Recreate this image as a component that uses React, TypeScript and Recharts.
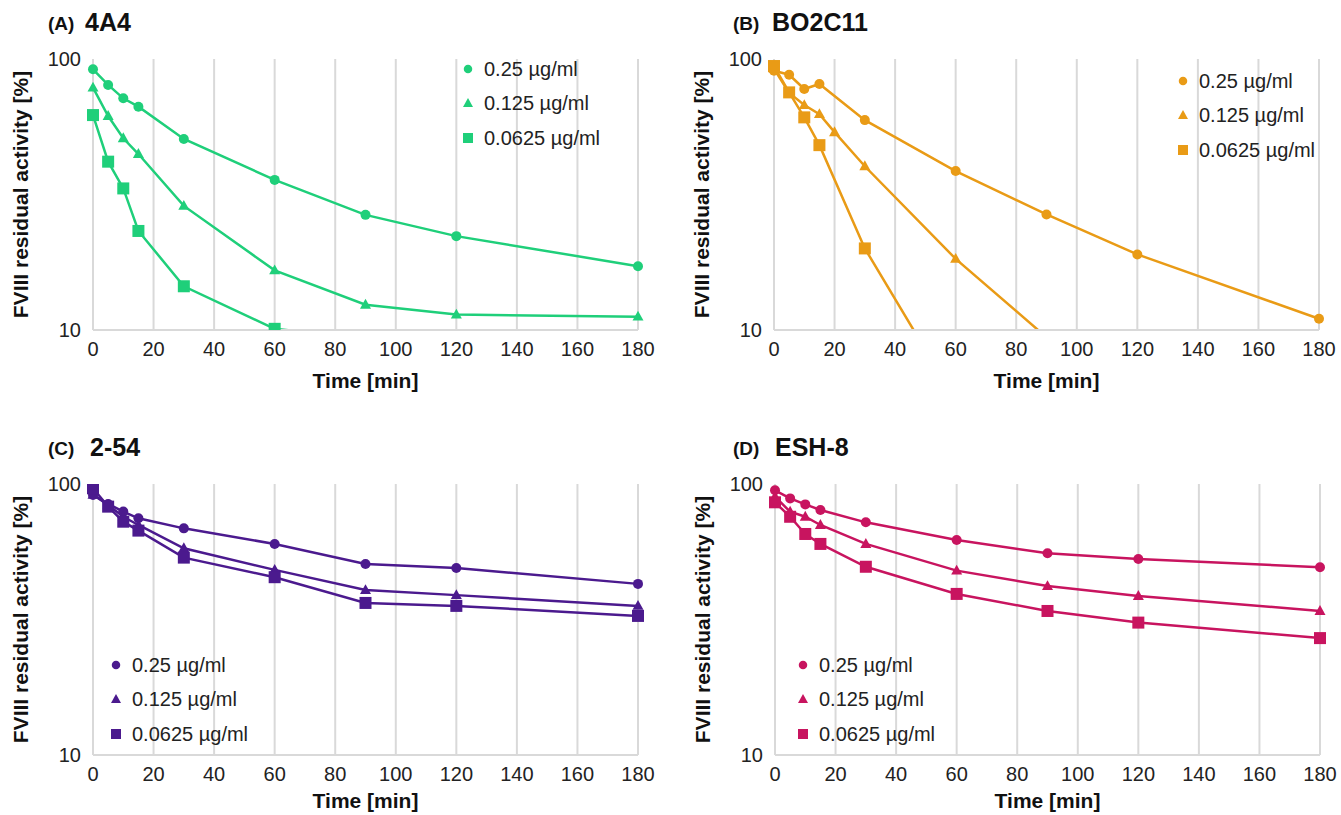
import React from "react"
import { LineChart, Line, XAxis, YAxis, CartesianGrid, Legend } from "recharts"

const FONT = "'Liberation Sans', Arial, Helvetica, sans-serif"

// sampling times (min)
const TIMES = [0, 5, 10, 15, 30, 60, 90, 120, 180]
const TIMES_A_LOW = [0, 5, 10, 15, 30, 60, 90]
const TIMES_B_MID = [0, 5, 10, 15, 20, 30, 60, 90]
const TIMES_B_LOW = [0, 5, 10, 15, 30, 60]

const X_TICKS = [0, 20, 40, 60, 80, 100, 120, 140, 160, 180]
const Y_TICKS = [10, 100]

const DOSES = ["0.25 µg/ml", "0.125 µg/ml", "0.0625 µg/ml"]

// (A) 4A4
const A_HIGH = [91.6, 80.2, 71.6, 66.7, 50.7, 35.8, 26.6, 22.2, 17.2]
const A_MID = [78.4, 61.6, 51.0, 44.6, 28.7, 16.6, 12.4, 11.4, 11.2]
const A_LOW = [62.1, 41.8, 33.3, 23.2, 14.5, 10.1, 9.3]

// (B) BO2C11
const B_HIGH = [90.5, 87.5, 77.5, 80.9, 59.5, 38.6, 26.7, 19.0, 11.0]
const B_MID = [92.0, 75.0, 67.6, 62.6, 53.7, 40.2, 18.3, 9.4]
const B_LOW = [94.2, 75.3, 60.9, 48.1, 20.0, 5.5]

// (C) 2-54
const C_HIGH = [91.1, 84.4, 79.1, 74.7, 68.6, 60.1, 50.7, 49.0, 42.8]
const C_MID = [91.3, 83.7, 75.7, 70.6, 57.9, 48.2, 40.6, 38.9, 35.5]
const C_LOW = [96.4, 82.5, 72.6, 67.3, 53.5, 45.3, 36.4, 35.5, 32.6]

// (D) ESH-8
const D_HIGH = [94.8, 88.5, 84.1, 80.2, 72.2, 62.1, 55.5, 52.9, 49.3]
const D_MID = [89.8, 79.0, 75.7, 70.6, 60.1, 47.9, 42.0, 38.6, 34.0]
const D_LOW = [85.6, 75.7, 65.4, 60.1, 49.5, 39.3, 34.0, 30.8, 27.0]

const SHAPES = ["circle", "triangle", "square"]

const toPoints = (times: number[], values: number[]) =>
  times.map((t, i) => ({ t, v: values[i] }))

function Marker({ shape, cx, cy, color, size }: any) {
  if (cx == null || cy == null) return null
  if (shape === "circle") return <circle cx={cx} cy={cy} r={size / 2} fill={color} />
  if (shape === "triangle") {
    const h = size * 0.9
    return (
      <polygon
        points={`${cx},${cy - h * 0.6} ${cx - size / 2},${cy + h * 0.4} ${cx + size / 2},${cy + h * 0.4}`}
        fill={color}
      />
    )
  }
  return <rect x={cx - size / 2} y={cy - size / 2} width={size} height={size} fill={color} />
}

const DOT_SIZE: Record<string, number> = { circle: 10, triangle: 11, square: 12 }
const LEG_SIZE: Record<string, number> = { circle: 8.5, triangle: 10, square: 10 }

function LegendBox({ color }: { color: string }) {
  return (
    <svg width={190} height={105}>
      {DOSES.map((d, i) => (
        <g key={d}>
          <Marker shape={SHAPES[i]} cx={8} cy={17 + i * 34.5} color={color} size={LEG_SIZE[SHAPES[i]]} />
          <text x={24} y={17 + i * 34.5} dy="0.33em" fontSize={20} fontFamily={FONT} fill="#222">
            {d}
          </text>
        </g>
      ))}
    </svg>
  )
}

function YTitle({ viewBox }: any) {
  const cx = viewBox.x + 12
  const cy = viewBox.y + viewBox.height / 2
  return (
    <text
      x={cx}
      y={cy}
      transform={`rotate(-90 ${cx} ${cy})`}
      textAnchor="middle"
      dominantBaseline="central"
      fontSize={21}
      fontWeight="bold"
      fontFamily={FONT}
      fill="#111"
    >
      FVIII residual activity [%]
    </text>
  )
}

function XTitle({ viewBox, drop }: any) {
  return (
    <text
      x={viewBox.x + viewBox.width / 2}
      y={viewBox.y + drop}
      textAnchor="middle"
      fontSize={21}
      fontWeight="bold"
      fontFamily={FONT}
      fill="#111"
    >
      Time [min]
    </text>
  )
}

function Panel({ left, top, color, series, legendPos, drop }: any) {
  return (
    <div style={{ position: "absolute", left, top }}>
      <LineChart width={650} height={361} margin={{ top: 20, right: 20, bottom: 0, left: 0 }}>
        <CartesianGrid horizontal={false} stroke="#d9d9d9" strokeWidth={2} />
        <XAxis
          dataKey="t"
          type="number"
          domain={[0, 180]}
          ticks={X_TICKS}
          interval={0}
          height={70}
          tickLine={false}
          tickMargin={6}
          axisLine={{ stroke: "#d9d9d9", strokeWidth: 2 }}
          tick={{ fontSize: 20, fontFamily: FONT, fill: "#222" }}
          label={<XTitle drop={drop} />}
        />
        <YAxis
          type="number"
          scale="log"
          domain={[10, 100]}
          ticks={Y_TICKS}
          allowDataOverflow
          width={85}
          axisLine={false}
          tickLine={false}
          tickMargin={6}
          tick={{ fontSize: 20, fontFamily: FONT, fill: "#222" }}
          label={<YTitle />}
        />
        {series.map((s: any, i: number) => (
          <Line
            key={DOSES[i]}
            name={DOSES[i]}
            data={toPoints(s.times, s.values)}
            dataKey="v"
            type="linear"
            stroke={color}
            strokeWidth={2.5}
            isAnimationActive={false}
            dot={(p: any) => (
              <Marker
                key={`${i}-${p.index}`}
                shape={SHAPES[i]}
                cx={p.cx}
                cy={p.cy}
                color={color}
                size={DOT_SIZE[SHAPES[i]]}
              />
            )}
            activeDot={false}
          />
        ))}
        <Legend
          layout="vertical"
          align="center"
          verticalAlign="middle"
          wrapperStyle={{ left: legendPos[0], top: legendPos[1], width: 190, height: 105 }}
          content={() => <LegendBox color={color} />}
        />
      </LineChart>
    </div>
  )
}

const TITLES = [
  { x: 48, gap: 37, y: 31, tag: "(A)", name: "4A4" },
  { x: 733, gap: 39, y: 31, tag: "(B)", name: "BO2C11" },
  { x: 48, gap: 42, y: 456, tag: "(C)", name: "2-54" },
  { x: 733, gap: 42, y: 456, tag: "(D)", name: "ESH-8" },
]

export default function App() {
  return (
    <div
      style={{
        position: "absolute",
        left: 0,
        top: 0,
        width: 1341,
        height: 815,
        background: "#fff",
        overflow: "hidden",
        fontFamily: FONT,
      }}
    >
      <svg width={1341} height={815} style={{ position: "absolute", left: 0, top: 0 }}>
        {TITLES.map((t) => (
          <g key={t.tag}>
            <text x={t.x} y={t.y - 1} fontSize={19} fontWeight="bold" fontFamily={FONT} fill="#111">
              {t.tag}
            </text>
            <text x={t.x + t.gap} y={t.y} fontSize={25} fontWeight="bold" fontFamily={FONT} fill="#111">
              {t.name}
            </text>
          </g>
        ))}
      </svg>
      <Panel
        left={8}
        top={39}
        color="#1fcf7a"
        drop={58}
        legendPos={[452, 13]}
        series={[
          { times: TIMES, values: A_HIGH },
          { times: TIMES, values: A_MID },
          { times: TIMES_A_LOW, values: A_LOW },
        ]}
      />
      <Panel
        left={689}
        top={39}
        color="#e99b16"
        drop={58}
        legendPos={[486, 25]}
        series={[
          { times: TIMES, values: B_HIGH },
          { times: TIMES_B_MID, values: B_MID },
          { times: TIMES_B_LOW, values: B_LOW },
        ]}
      />
      <Panel
        left={8}
        top={464}
        color="#4b1a8e"
        drop={53}
        legendPos={[100, 184]}
        series={[
          { times: TIMES, values: C_HIGH },
          { times: TIMES, values: C_MID },
          { times: TIMES, values: C_LOW },
        ]}
      />
      <Panel
        left={690}
        top={464}
        color="#c8145f"
        drop={53}
        legendPos={[105, 184]}
        series={[
          { times: TIMES, values: D_HIGH },
          { times: TIMES, values: D_MID },
          { times: TIMES, values: D_LOW },
        ]}
      />
    </div>
  )
}
